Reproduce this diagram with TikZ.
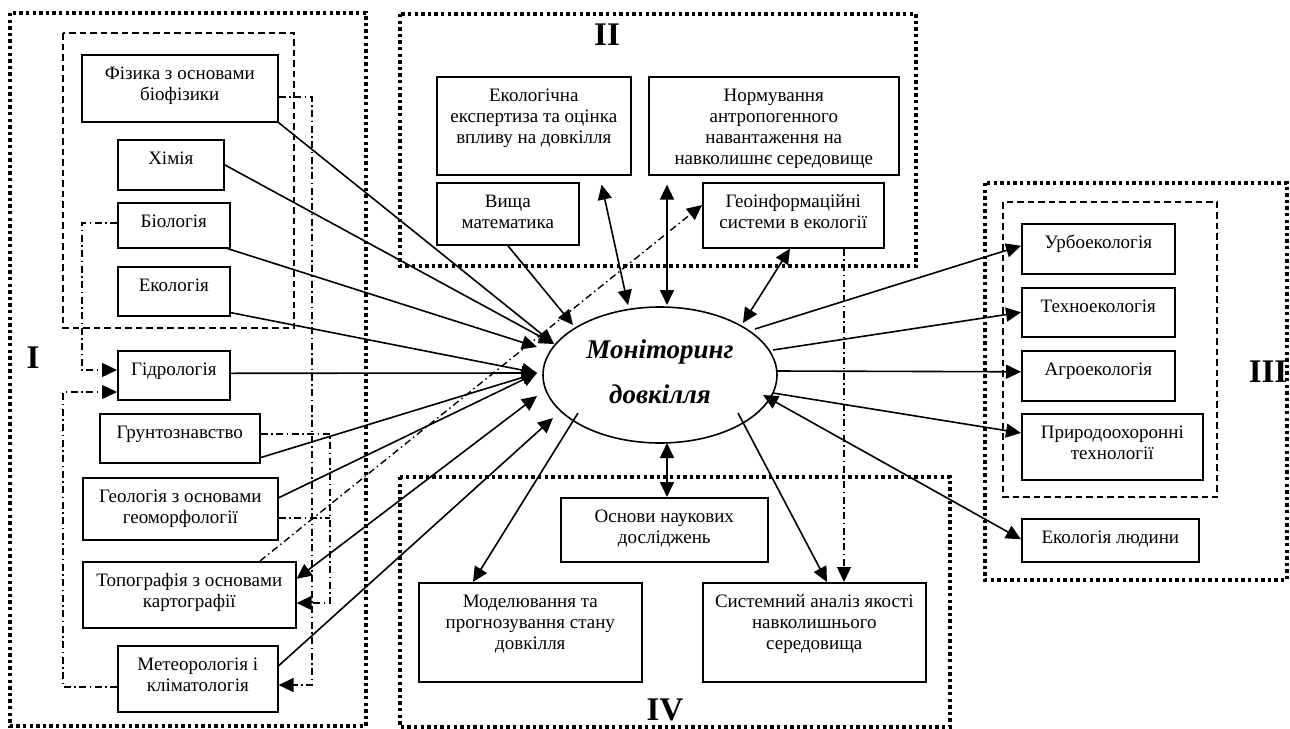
\documentclass[tikz,border=0pt]{standalone}
\usepackage{fontspec}
\setmainfont{Liberation Serif}
\usetikzlibrary{arrows.meta,shapes.geometric,calc}
\newcommand{\boxfont}{\fontsize{19}{21}\selectfont}
\newcommand{\bx}[6]{\node[boxst] (#1) at (#2,#3) {\parbox[c][\dimexpr #5pt-#3pt\relax][t]{\dimexpr #4pt-#2pt\relax}{\centering\boxfont\rule{0pt}{24.5pt}#6}};}
\tikzset{
 boxst/.style={draw, line width=1.6pt, inner sep=0pt, anchor=north west},
 outerst/.style={line width=3.4pt, dash pattern=on 3.4pt off 3.2pt},
 innerst/.style={line width=1.5pt, dash pattern=on 6.5pt off 4pt},
 conn/.style={line width=1.6pt},
 ddot/.style={line width=1.4pt, dash pattern=on 7pt off 3.5pt on 1.5pt off 3.5pt},
 tip/.style={-{Triangle[length=15pt,width=14pt]}},
 dtip/.style={{Triangle[length=15pt,width=14pt]}-{Triangle[length=15pt,width=14pt]}},
 roman/.style={font=\fontsize{33}{36}\selectfont\bfseries, inner sep=0pt, anchor=base},
 montxt/.style={font=\fontsize{27}{30}\selectfont\bfseries\itshape, inner sep=0pt, anchor=base},
}
\begin{document}
\begin{tikzpicture}[x=1pt,y=-1pt]
\fill[white] (0,0) rectangle (1290,728);
\useasboundingbox (0,0) rectangle (1290,728);
% frames
\draw[outerst] (10,13) rectangle (366,726);
\draw[outerst] (400,14) rectangle (916,266);
\draw[outerst] (985,183) rectangle (1287,580);
\draw[outerst] (400,477) rectangle (950,727);
\draw[innerst] (63,33) rectangle (294,328);
\draw[innerst] (1003,202) rectangle (1217,497);
% roman labels
\node[roman] (lI) at (33,368) {I};
\node[roman] (lII) at (607,45) {II};
\node[roman] (lIII) at (1268,382) {III};
\node[roman] (lIV) at (665,720) {IV};
% group I
\bx{fiz}{81}{54}{277}{121}{Фізика з основами\\біофізики}
\bx{him}{117}{139}{223}{189}{Хімія}
\bx{bio}{117}{202}{229}{247}{Біологія}
\bx{eco}{117}{266}{229}{315}{Екологія}
\bx{gid}{117}{350}{229}{399}{Гідрологія}
\bx{grunt}{99}{413}{259}{462}{Грунтознавство}
\bx{geol}{82}{477}{277}{539}{Геологія з основами\\геоморфології}
\bx{topo}{82}{561}{295}{627}{Топографія з основами\\картографії}
\bx{meteo}{117}{645}{277}{711}{Метеорологія і\\кліматологія}
% group II
\bx{eksp}{436}{76}{630}{174}{Екологічна\\експертиза та оцінка\\впливу на довкілля}
\bx{vysh}{436}{182}{578}{244}{Вища\\математика}
\bx{norm}{648}{76}{898}{174}{Нормування\\антропогенного\\навантаження на\\навколишнє середовище}
\bx{geoi}{702}{182}{883}{247}{Геоінформаційні\\системи в екології}
% group III
\bx{urbo}{1021}{223}{1174}{273}{Урбоекологія}
\bx{tech}{1021}{287}{1174}{336}{Техноекологія}
\bx{agro}{1021}{350}{1174}{400}{Агроекологія}
\bx{pryr}{1021}{413}{1202}{479}{Природоохоронні\\технології}
\bx{lyud}{1021}{518}{1198}{561}{Екологія людини}
% group IV
\bx{osn}{560}{497}{767}{561}{Основи наукових\\досліджень}
\bx{mod}{418}{582}{641}{681}{Моделювання та\\прогнозування стану\\довкілля}
\bx{sys}{702}{582}{925}{681}{Системний аналіз якості\\навколишнього\\середовища}
% ellipse
\node[draw, ellipse, line width=1.6pt, minimum width=234pt, minimum height=136pt, inner sep=0pt] (mon) at (660,375) {};
\node[montxt] (mon1) at (660,358) {Моніторинг};
\node[montxt] (mon2) at (660,403) {довкілля};
% touch points on ellipse
\coordinate (eFiz) at (554,344);
\coordinate (eBio) at (537,347);
\coordinate (eMid) at (537,373);
\coordinate (eTopo) at (537,396);
\coordinate (eMet) at (553,418);
\coordinate (eVys) at (573,325);
\coordinate (eEksp) at (628,305);
\coordinate (eNorm) at (667,305);
\coordinate (eGeoi) at (743,323);
\coordinate (eUrbo) at (755,329);
\coordinate (eTech) at (773,350);
\coordinate (eAgro) at (776,371);
\coordinate (ePryr) at (773,393);
\coordinate (eLyud) at (763,395);
\coordinate (eOsn) at (667,443);
\coordinate (eMod) at (578,413);
\coordinate (eSys) at (738,413);
% solid connectors group I
\draw[conn,tip] (fiz.south east) -- (eFiz);
\draw[conn,tip] (him.east) -- (eFiz);
\draw[conn,tip] ($(bio.south east)+(-3,0)$) -- (eBio);
\draw[conn,tip] ($(eco.south east)+(0,-4)$) -- (eMid);
\draw[conn,tip] ($(gid.east)+(0,-2)$) -- (eMid);
\draw[conn,tip] ($(grunt.south east)+(0,-6)$) -- (eMid);
\draw[conn,tip] ($(geol.east)+(0,-11)$) -- (eMid);
\draw[conn,dtip] ($(topo.east)+(0,-16)$) -- (eTopo);
\draw[conn,tip] ($(meteo.east)+(0,-13)$) -- (eMet);
% group II
\draw[conn,tip] (vysh.south) -- (eVys);
\draw[conn,dtip] ($(eksp.south east)+(-30,9)$) -- (eEksp);
\draw[conn,dtip] ($(norm.south west)+(19,9)$) -- (eNorm);
\draw[conn,dtip] ($(geoi.south west)+(88,0)$) -- (eGeoi);
% group III
\draw[conn,tip] (eUrbo) -- ($(urbo.west)+(0,-3)$);
\draw[conn,tip] (eTech) -- (tech.west);
\draw[conn,tip] (eAgro) -- ($(agro.west)+(0,-4)$);
\draw[conn,tip] (ePryr) -- ($(pryr.north west)+(0,20)$);
\draw[conn,dtip] (eLyud) -- ($(lyud.west)+(0,-1)$);
% group IV
\draw[conn,dtip] (eOsn) -- ($(osn.north west)+(107,0)$);
\draw[conn,tip] (eMod) -- ($(mod.north west)+(55,0)$);
\draw[conn,tip] (eSys) -- ($(sys.north west)+(125,0)$);
% dash-dot connectors
\draw[ddot,tip] ($(fiz.north east)+(0,43)$) -- (312,97) -- (312,685) -- ($(meteo.north east)+(0,40)$);
\draw[ddot,tip] ($(bio.north west)+(0,21)$) -- (82,223) -- (82,370) -- ($(gid.north west)+(0,20)$);
\draw[ddot,tip] ($(meteo.north west)+(0,42)$) -- (63,687) -- (63,392) -- ($(gid.north west)+(0,42)$);
\draw[ddot,tip] ($(grunt.north east)+(0,21)$) -- (330,434) -- (330,603) -- ($(topo.north east)+(0,42)$);
\draw[ddot] ($(geol.north east)+(0,41)$) -- (330,518);
\draw[ddot,tip] ($(topo.north west)+(178,0)$) -- ($(geoi.north west)+(0,23)$);
\draw[ddot,tip] ($(geoi.south west)+(142,0)$) -- ($(sys.north west)+(142,0)$);
\end{tikzpicture}
\end{document}
